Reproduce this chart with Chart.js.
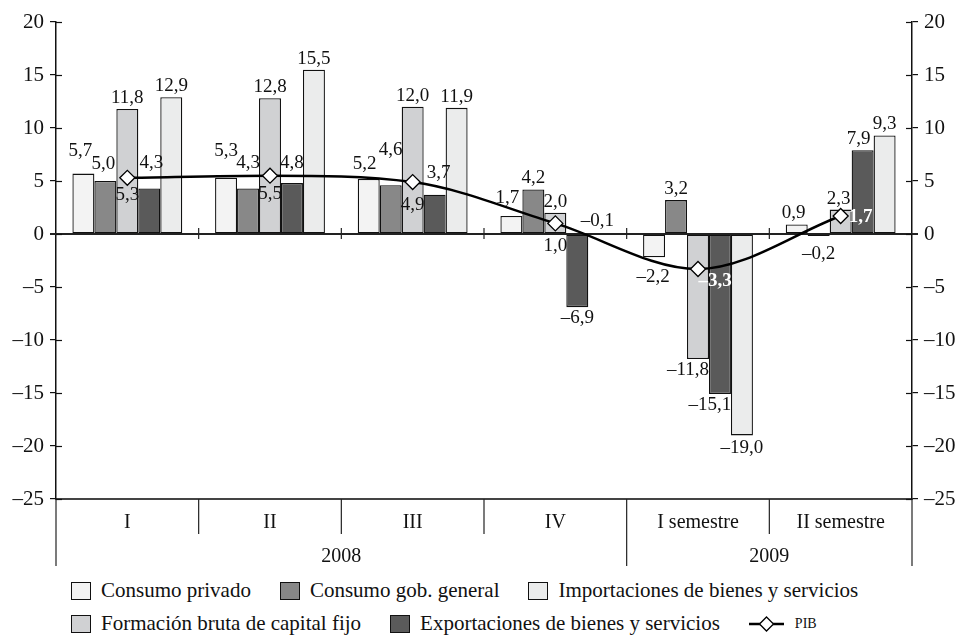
<!DOCTYPE html>
<html>
<head>
<meta charset="utf-8">
<script src="https://cdn.jsdelivr.net/npm/chart.js@4"></script>
<style>
  body { margin: 0; background: #fff; font-family: 'Liberation Serif', serif; }
  #wrap { position: relative; width: 959px; height: 636px; }
  #chart { position: absolute; left: 0; top: 0; }
  #legend { position: absolute; left: 71px; top: 574px; font-size: 21px; color: #111; }
  .row { display: flex; align-items: center; height: 33px; white-space: nowrap; }
  .item { display: flex; align-items: center; margin-right: 29px; }
  .box { width: 20px; height: 18px; border: 1px solid #111; margin-right: 10px; box-sizing: border-box; }
  .pib { font-size: 14px; margin-left: 11px; }
</style>
</head>
<body>
<div id="wrap">
  <canvas id="chart" width="959" height="574"></canvas>
  <div id="legend"></div>
</div>
<script>
// data
const categories = ['I', 'II', 'III', 'IV', 'I semestre', 'II semestre'];
const years = ['2008', '2009'];
const yearSpans = [4, 2];
const consumoPrivado = [5.7, 5.3, 5.2, 1.7, -2.2, 0.9];
const consumoGob = [5.0, 4.3, 4.6, 4.2, 3.2, -0.2];
const formacionBruta = [11.8, 12.8, 12.0, 2.0, -11.8, 2.3];
const exportaciones = [4.3, 4.8, 3.7, -6.9, -15.1, 7.9];
const importaciones = [12.9, 15.5, 11.9, -0.1, -19.0, 9.3];
const pib = [5.3, 5.5, 4.9, 1.0, -3.3, 1.7];
const yMin = -25, yMax = 20, yStep = 5;

const FONT = 'Liberation Serif';

// label nudges (px), one pair per point, to keep labels clear of each other
const nudges = {
  'Consumo privado': [[-3, -12], [0, -16], [-4, -4], [-4, -7], [-1, 9], [-3, 0]],
  'Consumo gob. general': [[-2, -6], [0, -14], [0, -24], [0, 0], [0, 0], [0, 7]],
  'Formación bruta de capital fijo': [[0, 0], [0, 0], [0, 0], [0, 0], [-10, 0], [-2, 0]],
  'Exportaciones de bienes y servicios': [[2, -14], [0, -9], [4, -11], [0, 0], [-10, 0], [-4, 0]],
  'Importaciones de bienes y servicios': [[0, 0], [0, 0], [0, 0], [-2, -25], [0, 2], [0, 0]],
  'PIB': [[0, 0], [0, 1], [0, 6], [0, 6], [17, -5], [20, -16]]
};
const whiteLabels = { 'PIB': [4, 5] };

function fmt(v) {
  return (v < 0 ? '–' : '') + Math.abs(v).toFixed(1).replace('.', ',');
}

const barSeries = [
  { label: 'Consumo privado', data: consumoPrivado, color: '#f3f3f3' },
  { label: 'Consumo gob. general', data: consumoGob, color: '#888888' },
  { label: 'Formación bruta de capital fijo', data: formacionBruta, color: '#d0d1d3' },
  { label: 'Exportaciones de bienes y servicios', data: exportaciones, color: '#5a5a5a' },
  { label: 'Importaciones de bienes y servicios', data: importaciones, color: '#ebecec' }
];

const datasets = barSeries.map(s => ({
  type: 'bar',
  label: s.label,
  data: s.data,
  backgroundColor: s.color,
  borderColor: '#111',
  borderWidth: 1.3,
  borderSkipped: false,
  categoryPercentage: 0.77,
  barPercentage: 1.0,
  order: 2
}));

datasets.push({
  type: 'line',
  label: 'PIB',
  data: pib,
  borderColor: '#000',
  borderWidth: 2.5,
  cubicInterpolationMode: 'monotone',
  pointStyle: 'rectRot',
  pointRadius: 7.5,
  pointBackgroundColor: '#fff',
  pointBorderColor: '#000',
  pointBorderWidth: 1.3,
  order: 1
});

// zero line with category ticks, drawn just under the PIB line
const zeroLine = {
  id: 'zeroLine',
  beforeDatasetDraw(chart, args) {
    if (args.meta.type !== 'line') return;
    const ctx = chart.ctx, ys = chart.scales.y, xs = chart.scales.x;
    const y0 = ys.getPixelForValue(0);
    const { left, right } = chart.chartArea;
    ctx.save();
    ctx.strokeStyle = '#222';
    ctx.lineWidth = 2;
    ctx.beginPath();
    ctx.moveTo(left - 6, y0);
    ctx.lineTo(right + 6, y0);
    ctx.stroke();
    ctx.lineWidth = 1.2;
    for (let i = 1; i < categories.length; i++) {
      const x = (xs.getPixelForValue(i - 1) + xs.getPixelForValue(i)) / 2;
      ctx.beginPath();
      ctx.moveTo(x, y0 - 6);
      ctx.lineTo(x, y0 + 5);
      ctx.stroke();
    }
    ctx.restore();
  }
};

// inner half of the y tick marks (Chart.js draws the outer half)
const innerTicks = {
  id: 'innerTicks',
  afterDraw(chart) {
    const ctx = chart.ctx;
    ctx.save();
    ctx.strokeStyle = '#111';
    ctx.lineWidth = 1.2;
    ['y', 'y2'].forEach(id => {
      const s = chart.scales[id];
      const x = id === 'y' ? chart.chartArea.left : chart.chartArea.right;
      const dir = id === 'y' ? 1 : -1;
      s.ticks.forEach(t => {
        const y = Math.round(s.getPixelForValue(t.value)) + 0.5;
        ctx.beginPath();
        ctx.moveTo(x, y);
        ctx.lineTo(x + dir * 6, y);
        ctx.stroke();
      });
    });
    ctx.restore();
  }
};

const valueLabels = {
  id: 'valueLabels',
  afterDatasetsDraw(chart) {
    const ctx = chart.ctx;
    ctx.save();
    ctx.textAlign = 'center';
    ctx.textBaseline = 'middle';
    chart.data.datasets.forEach((ds, di) => {
      const meta = chart.getDatasetMeta(di);
      meta.data.forEach((el, i) => {
        const v = ds.data[i];
        const n = (nudges[ds.label] || [])[i] || [0, 0];
        let y;
        if (ds.type === 'line') {
          y = el.y + 17;
        } else {
          y = v >= 0 ? el.y - 11 : el.y + 11;
        }
        const white = (whiteLabels[ds.label] || []).includes(i);
        ctx.font = (white ? 'bold ' : '') + '19px "' + FONT + '"';
        ctx.fillStyle = white ? '#fff' : '#111';
        ctx.fillText(fmt(v), el.x + n[0], y + n[1]);
      });
    });
    ctx.restore();
  }
};

// two-row category table under the plot
const bottomTable = {
  id: 'bottomTable',
  afterDraw(chart) {
    const ctx = chart.ctx, xs = chart.scales.x;
    const top = chart.chartArea.bottom;
    const row1 = top + 35, row2 = top + 67;
    const bound = i => {
      if (i <= 0) return chart.chartArea.left;
      if (i >= categories.length) return chart.chartArea.right;
      return (xs.getPixelForValue(i - 1) + xs.getPixelForValue(i)) / 2;
    };
    const yearBounds = [0];
    yearSpans.forEach(s => yearBounds.push(yearBounds[yearBounds.length - 1] + s));
    ctx.save();
    ctx.strokeStyle = '#222';
    ctx.lineWidth = 1.2;
    for (let i = 0; i <= categories.length; i++) {
      const x = bound(i);
      ctx.beginPath();
      ctx.moveTo(x, top);
      ctx.lineTo(x, yearBounds.includes(i) ? row2 : row1);
      ctx.stroke();
    }
    ctx.fillStyle = '#111';
    ctx.font = '20px "' + FONT + '"';
    ctx.textAlign = 'center';
    ctx.textBaseline = 'middle';
    categories.forEach((c, i) => {
      ctx.fillText(c, xs.getPixelForValue(i), top + 24);
    });
    years.forEach((yr, k) => {
      const x = (bound(yearBounds[k]) + bound(yearBounds[k + 1])) / 2;
      ctx.fillText(yr, x, top + 58);
    });
    ctx.restore();
  }
};

const tickFmt = v => (v < 0 ? '–' + Math.abs(v) : String(v));

const yAxis = (pos, width) => ({
  type: 'linear',
  position: pos,
  min: yMin,
  max: yMax,
  ticks: { stepSize: yStep, color: '#111', font: { family: FONT, size: 21 }, padding: 6, callback: tickFmt },
  grid: { drawOnChartArea: false, drawTicks: true, tickLength: 6, color: '#111', lineWidth: 1.2 },
  border: { color: '#111', width: 1.5 },
  afterFit: s => { s.width = width; }
});

new Chart(document.getElementById('chart'), {
  data: { labels: categories, datasets: datasets },
  options: {
    responsive: false,
    animation: false,
    layout: { padding: { top: 22, left: 0, right: 0, bottom: 0 } },
    plugins: { legend: { display: false }, tooltip: { enabled: false } },
    scales: {
      x: {
        type: 'category',
        offset: true,
        grid: { display: false },
        border: { color: '#444', width: 2 },
        ticks: { display: false },
        afterFit: s => { s.height = 75; }
      },
      y: yAxis('left', 56),
      y2: yAxis('right', 47)
    }
  },
  plugins: [zeroLine, valueLabels, bottomTable, innerTicks]
});

// legend
const legendRows = [
  [barSeries[0], barSeries[1], barSeries[4]],
  [barSeries[2], barSeries[3], { label: 'PIB', line: true }]
];
const legend = document.getElementById('legend');
legendRows.forEach(items => {
  const row = document.createElement('div');
  row.className = 'row';
  items.forEach(it => {
    const span = document.createElement('span');
    span.className = 'item';
    if (it.line) {
      span.innerHTML = '<svg width="35" height="16"><line x1="0" y1="8" x2="35" y2="8" stroke="#000" stroke-width="2.5"/>' +
        '<polygon points="17.5,1 24.5,8 17.5,15 10.5,8" fill="#fff" stroke="#000" stroke-width="1.3"/></svg>' +
        '<span class="pib">' + it.label + '</span>';
    } else {
      const b = document.createElement('i');
      b.className = 'box';
      b.style.background = it.color;
      span.appendChild(b);
      span.appendChild(document.createTextNode(it.label));
    }
    row.appendChild(span);
  });
  legend.appendChild(row);
});
</script>
</body>
</html>
